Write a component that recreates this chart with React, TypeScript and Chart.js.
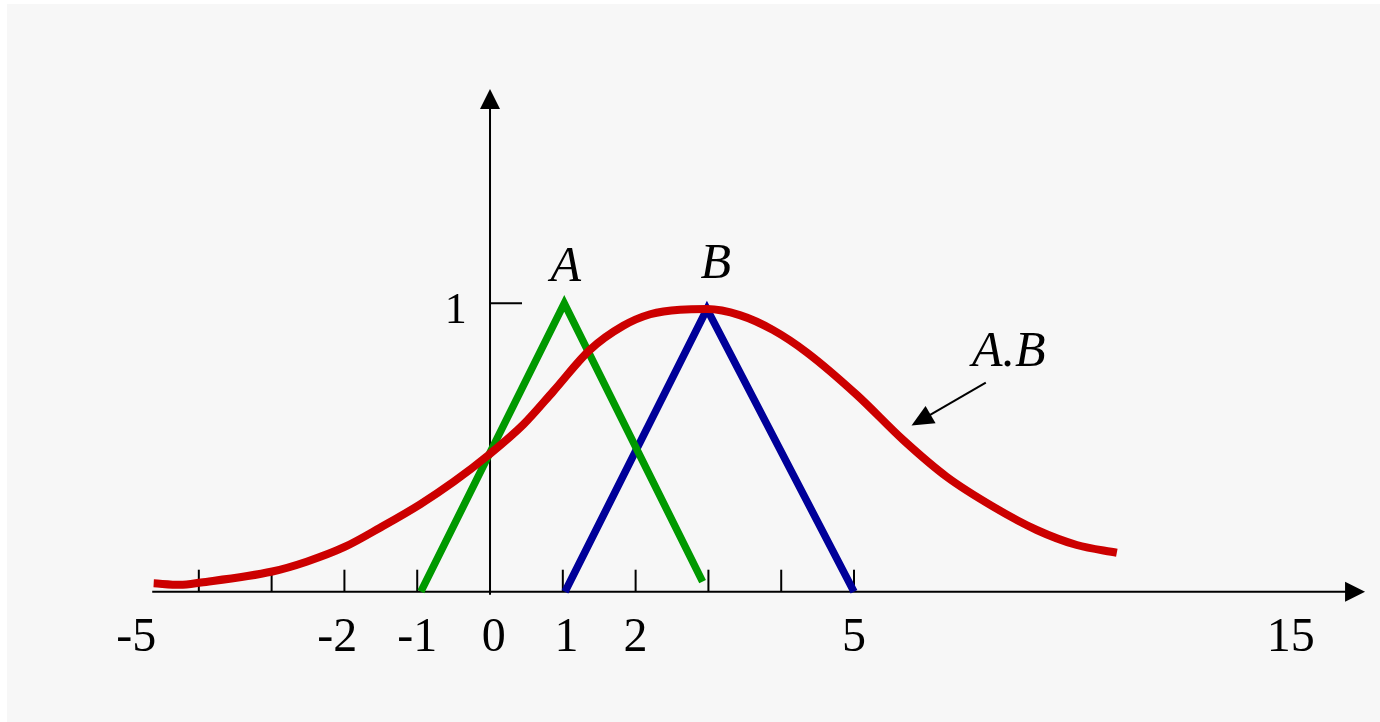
import React, { useEffect, useRef } from "react";
import { Chart, registerables } from "chart.js";

Chart.register(...registerables);

// ---- data ----
const seriesA = [
  { x: -0.95, y: 0.0 },
  { x: 1.02, y: 1.0 },
  { x: 2.92, y: 0.035 },
];
const seriesB = [
  { x: 1.03, y: 0.0 },
  { x: 2.98, y: 0.98 },
  { x: 5.0, y: 0.0 },
];
const seriesAB = [
  { x: -4.62, y: 0.029 },
  { x: -4.26, y: 0.024 },
  { x: -3.97, y: 0.032 },
  { x: -2.99, y: 0.07 },
  { x: -2.52, y: 0.104 },
  { x: -1.99, y: 0.156 },
  { x: -1.51, y: 0.222 },
  { x: -0.96, y: 0.303 },
  { x: -0.5, y: 0.381 },
  { x: -0.02, y: 0.474 },
  { x: 0.46, y: 0.58 },
  { x: 0.87, y: 0.695 },
  { x: 1.37, y: 0.838 },
  { x: 1.83, y: 0.922 },
  { x: 2.2, y: 0.962 },
  { x: 2.61, y: 0.978 },
  { x: 2.98, y: 0.98 },
  { x: 3.43, y: 0.959 },
  { x: 3.89, y: 0.907 },
  { x: 4.35, y: 0.83 },
  { x: 5.04, y: 0.682 },
  { x: 5.68, y: 0.525 },
  { x: 6.27, y: 0.399 },
  { x: 6.91, y: 0.295 },
  { x: 7.51, y: 0.214 },
  { x: 8.06, y: 0.162 },
  { x: 8.61, y: 0.135 },
];

const xTickMarks = [-4, -3, -2, -1, 0, 1, 2, 3, 4, 5];
const xLabelValues = [-4.86, -2.1, -1.0, 0.05, 1.05, 2.0, 5.0, 11.0];
const xLabelTexts = ["-5", "-2", "-1", "0", "1", "2", "5", "15"];
const yTickValues = [1];
const yTickTexts = ["1"];
const yLabelX = -0.47;
const xAxisRange = [-4.64, 12.02];
const yAxisRange = [-0.011, 1.743];

const annotations = [
  { text: "A", x: 1.04, y: 1.078, align: "center" },
  { text: "B", x: 3.1, y: 1.088, align: "center" },
  { text: "A.B", x: 6.62, y: 0.783, align: "left" },
];
const arrowFrom = { x: 6.81, y: 0.725 };
const arrowTo = { x: 5.79, y: 0.576 };

const SERIF = '"Liberation Serif", "Times New Roman", Times, serif';

function arrowHead(ctx: CanvasRenderingContext2D, tx: number, ty: number, angle: number, len: number, half: number) {
  ctx.save();
  ctx.translate(tx, ty);
  ctx.rotate(angle);
  ctx.beginPath();
  ctx.moveTo(0, 0);
  ctx.lineTo(-len, -half);
  ctx.lineTo(-len, half);
  ctx.closePath();
  ctx.fill();
  ctx.restore();
}

const bgPlugin = {
  id: "bgPlugin",
  beforeDraw(chart: any) {
    const ctx = chart.ctx;
    ctx.save();
    ctx.fillStyle = "#ffffff";
    ctx.fillRect(0, 0, chart.width, chart.height);
    ctx.fillStyle = "#f7f7f7";
    ctx.fillRect(7, 4, chart.width - 7, chart.height - 4);
    ctx.restore();
  },
};

const axesPlugin = {
  id: "axesPlugin",
  beforeDatasetsDraw(chart: any) {
    const ctx = chart.ctx;
    const xs = chart.scales.x;
    const ys = chart.scales.y;
    const y0 = ys.getPixelForValue(0);
    const x0 = xs.getPixelForValue(0);
    ctx.save();
    ctx.strokeStyle = "#000";
    ctx.fillStyle = "#000";
    ctx.lineWidth = 2;
    // x axis
    const xl = xs.getPixelForValue(xAxisRange[0]);
    const xr = xs.getPixelForValue(xAxisRange[1]);
    ctx.beginPath();
    ctx.moveTo(xl, y0);
    ctx.lineTo(xr - 18, y0);
    ctx.stroke();
    arrowHead(ctx, xr, y0, 0, 20, 10);
    // y axis
    const yb = ys.getPixelForValue(yAxisRange[0]);
    const yt = ys.getPixelForValue(yAxisRange[1]);
    ctx.beginPath();
    ctx.moveTo(x0, yb);
    ctx.lineTo(x0, yt + 18);
    ctx.stroke();
    arrowHead(ctx, x0, yt, -Math.PI / 2, 20, 10);
    // x tick marks
    xTickMarks.forEach((v) => {
      if (v === 0) return;
      const px = xs.getPixelForValue(v);
      ctx.beginPath();
      ctx.moveTo(px, y0);
      ctx.lineTo(px, y0 - 22);
      ctx.stroke();
    });
    // y tick marks
    yTickValues.forEach((v) => {
      const py = ys.getPixelForValue(v);
      ctx.beginPath();
      ctx.moveTo(x0, py);
      ctx.lineTo(x0 + 32, py);
      ctx.stroke();
    });
    // x labels
    ctx.font = `48px ${SERIF}`;
    ctx.textAlign = "center";
    ctx.textBaseline = "alphabetic";
    xLabelValues.forEach((v, i) => {
      ctx.fillText(xLabelTexts[i], xs.getPixelForValue(v), y0 + 59);
    });
    // y labels
    ctx.font = `44px ${SERIF}`;
    yTickValues.forEach((v, i) => {
      ctx.fillText(yTickTexts[i], xs.getPixelForValue(yLabelX), ys.getPixelForValue(v) + 20);
    });
    ctx.restore();
  },
  afterDraw(chart: any) {
    const ctx = chart.ctx;
    const xs = chart.scales.x;
    const ys = chart.scales.y;
    ctx.save();
    ctx.fillStyle = "#000";
    ctx.strokeStyle = "#000";
    ctx.font = `italic 50px ${SERIF}`;
    ctx.textBaseline = "alphabetic";
    annotations.forEach((a) => {
      ctx.textAlign = a.align as CanvasTextAlign;
      ctx.fillText(a.text, xs.getPixelForValue(a.x), ys.getPixelForValue(a.y));
    });
    const fx = xs.getPixelForValue(arrowFrom.x);
    const fy = ys.getPixelForValue(arrowFrom.y);
    const tx = xs.getPixelForValue(arrowTo.x);
    const ty = ys.getPixelForValue(arrowTo.y);
    const ang = Math.atan2(ty - fy, tx - fx);
    ctx.lineWidth = 2;
    ctx.beginPath();
    ctx.moveTo(fx, fy);
    ctx.lineTo(tx - Math.cos(ang) * 18, ty - Math.sin(ang) * 18);
    ctx.stroke();
    arrowHead(ctx, tx, ty, ang, 22, 10);
    ctx.restore();
  },
};

export default function App() {
  const ref = useRef<HTMLCanvasElement | null>(null);
  useEffect(() => {
    document.body.style.margin = "0";
    if (!ref.current) return;
    const chart = new Chart(ref.current, {
      type: "line",
      data: {
        datasets: [
          {
            label: "A.B",
            data: seriesAB,
            borderColor: "#cc0000",
            borderWidth: 8,
            pointRadius: 0,
            cubicInterpolationMode: "monotone",
            fill: false,
          },
          {
            label: "A",
            data: seriesA,
            borderColor: "#009900",
            borderWidth: 7.5,
            pointRadius: 0,
            tension: 0,
            borderJoinStyle: "miter",
            fill: false,
          },
          {
            label: "B",
            data: seriesB,
            borderColor: "#000099",
            borderWidth: 7.5,
            pointRadius: 0,
            tension: 0,
            borderJoinStyle: "miter",
            fill: false,
          },
        ],
      },
      options: {
        animation: false,
        responsive: false,
        devicePixelRatio: 1,
        layout: { padding: 0 },
        plugins: { legend: { display: false }, tooltip: { enabled: false }, title: { display: false } },
        events: [],
        scales: {
          x: { type: "linear", display: false, min: -6.731, max: 12.225 },
          y: { type: "linear", display: false, min: -0.4518, max: 2.0517 },
        },
      },
      plugins: [bgPlugin, axesPlugin],
    });
    return () => chart.destroy();
  }, []);
  return (
    <div style={{ width: 1380, height: 722 }}>
      <canvas ref={ref} width={1380} height={722} style={{ display: "block", width: 1380, height: 722 }} />
    </div>
  );
}
